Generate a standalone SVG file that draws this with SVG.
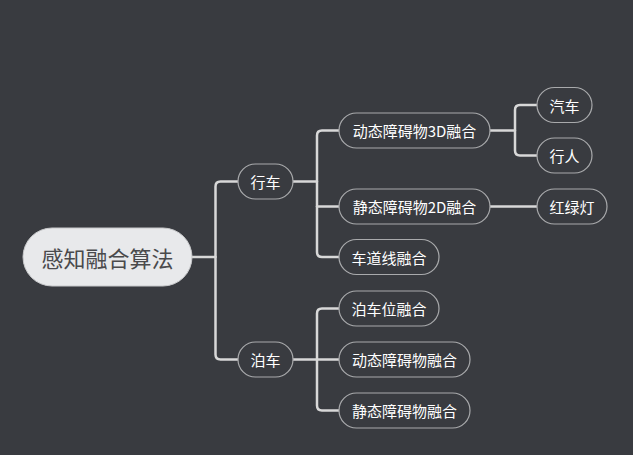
<svg xmlns="http://www.w3.org/2000/svg" width="633" height="455" viewBox="0 0 633 455">
<style>
.bg{fill:#393b40}
.node rect{fill:#393b40;stroke:#a9aaac;stroke-width:1.2}
.node text{fill:#ffffff;font-family:"Noto Sans CJK SC","Noto Sans",sans-serif;font-size:15px;text-anchor:middle;dominant-baseline:central}
#root rect{fill:#e8e9eb;stroke:#c8c9cb;stroke-width:1}
#root text{fill:#4a4a4c;font-size:22px}
.conn path{fill:none;stroke:#d8d8d8;stroke-width:2.5;stroke-linecap:round;stroke-linejoin:round}
</style>
<rect class="bg" x="0" y="0" width="633" height="455"/>
<g class="conn" id="connectors">
<path d="M192,257 H215.5 V186.5 Q215.5,181.5 220.5,181.5 H238"/>
<path d="M215.5,257 V354.5 Q215.5,359.5 220.5,359.5 H238"/>
<path d="M293,181.5 H317 V135.5 Q317,130.5 322,130.5 H339"/>
<path d="M317,181.5 V252 Q317,257 322,257 H339"/>
<path d="M317,206.5 H339"/>
<path d="M490,130.5 H515 V110 Q515,105 520,105 H537"/>
<path d="M515,130.5 V150.5 Q515,155.5 520,155.5 H537"/>
<path d="M490,206.5 H537"/>
<path d="M293,359.5 H317 V313.5 Q317,308.5 322,308.5 H339"/>
<path d="M317,359.5 V405.5 Q317,410.5 322,410.5 H339"/>
<path d="M317,359.5 H339"/>
</g>
<g class="node" id="root"><rect x="23" y="228" width="169" height="58" rx="29"/><text x="107.5" y="257">感知融合算法</text></g>
<g class="node" id="n-xingche"><rect x="238" y="164" width="55" height="35" rx="17.5"/><text x="265.5" y="181.5">行车</text></g>
<g class="node" id="n-boche"><rect x="238" y="342" width="55" height="35" rx="17.5"/><text x="265.5" y="359.5">泊车</text></g>
<g class="node" id="n-dyn3d"><rect x="339" y="113" width="151" height="35" rx="17.5"/><text x="414.5" y="130.5">动态障碍物3D融合</text></g>
<g class="node" id="n-sta2d"><rect x="339" y="189" width="151" height="35" rx="17.5"/><text x="414.5" y="206.5">静态障碍物2D融合</text></g>
<g class="node" id="n-lane"><rect x="339" y="239.5" width="100" height="35" rx="17.5"/><text x="389" y="257">车道线融合</text></g>
<g class="node" id="n-car"><rect x="537" y="87.5" width="55" height="35" rx="17.5"/><text x="564.5" y="105">汽车</text></g>
<g class="node" id="n-ped"><rect x="537" y="138" width="55" height="35" rx="17.5"/><text x="564.5" y="155.5">行人</text></g>
<g class="node" id="n-light"><rect x="537" y="189" width="70" height="35" rx="17.5"/><text x="572" y="206.5">红绿灯</text></g>
<g class="node" id="n-slot"><rect x="339" y="291" width="100" height="35" rx="17.5"/><text x="389" y="308.5">泊车位融合</text></g>
<g class="node" id="n-pdyn"><rect x="339" y="342" width="131" height="35" rx="17.5"/><text x="404.5" y="359.5">动态障碍物融合</text></g>
<g class="node" id="n-psta"><rect x="339" y="393" width="131" height="35" rx="17.5"/><text x="404.5" y="410.5">静态障碍物融合</text></g>
</svg>
